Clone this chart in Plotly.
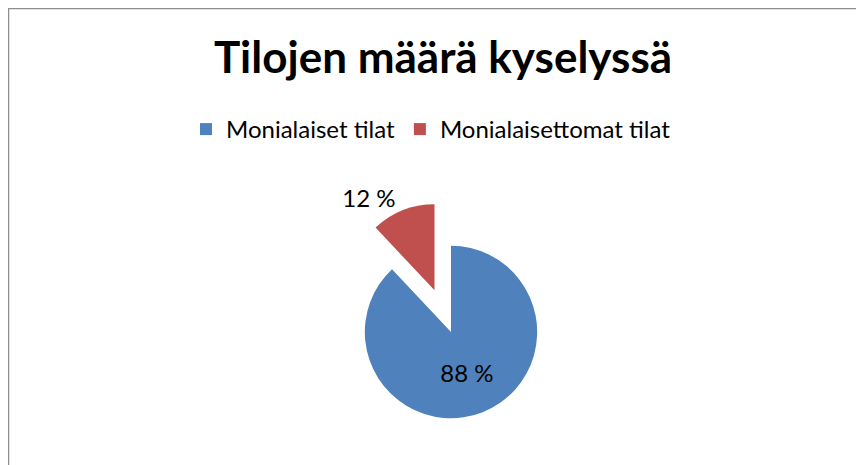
import plotly.graph_objects as go

categories = ["Monialaiset tilat", "Monialaisettomat tilat"]
values = [88, 12]
value_labels = ["88 %", "12 %"]
colors = ["#4F81BD", "#C0504D"]

# figure sits inside the page body (8px margin)
W, H = 856, 457
FONT = "Lato, Carlito, sans-serif"

pull_red = 0.52
cy_top = 324.0        # pie centre, px from figure top
cx = 443.0            # pie centre, px from figure left
half = 131.0          # half-size of the pie domain box in px

fig = go.Figure()
fig.add_trace(go.Pie(
    labels=categories,
    values=values,
    text=value_labels,
    textinfo="text",
    textposition=["inside", "outside"],
    insidetextorientation="horizontal",
    sort=False,
    direction="clockwise",
    rotation=0,
    pull=[0, pull_red],
    marker=dict(colors=colors, line=dict(width=0)),
    textfont=dict(family=FONT, size=24, color="black"),
    outsidetextfont=dict(family=FONT, size=24, color="black"),
    insidetextfont=dict(family=FONT, size=24, color="black"),
    domain=dict(
        x=[(cx - half) / W, (cx + half) / W],
        y=[(H - cy_top - half) / H, (H - cy_top + half) / H],
    ),
    hoverinfo="label+percent",
))

fig.update_layout(
    width=W, height=H,
    margin=dict(l=0, r=0, t=0, b=0, pad=0, autoexpand=False),
    autosize=False,
    paper_bgcolor="white",
    plot_bgcolor="white",
    title=dict(
        text="<b>Tilojen määrä kyselyssä</b>",
        font=dict(family=FONT, size=44, color="black"),
        x=435 / W, xanchor="center", y=1 - 50 / H, yanchor="middle",
    ),
    legend=dict(
        orientation="h",
        x=(198 - 20) / W, xanchor="left",
        y=1 - 121.5 / H, yanchor="middle",
        font=dict(family=FONT, size=24, color="black"),
        itemwidth=30,
        traceorder="normal",
    ),
    shapes=[dict(
        type="rect", xref="paper", yref="paper",
        x0=0.5 / W, x1=1 + 40 / W, y0=-40 / H, y1=1 - 0.5 / H,
        line=dict(color="#8E8E8E", width=1.5),
        fillcolor="rgba(0,0,0,0)", layer="above",
    )],
)

fig.write_html("out.html")
